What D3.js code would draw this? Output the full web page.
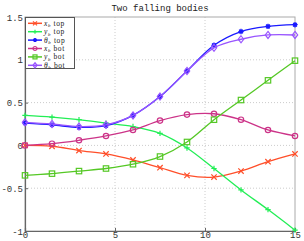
<!DOCTYPE html>
<html>
<head>
<meta charset="utf-8">
<script src="https://cdn.jsdelivr.net/npm/d3@7"></script>
<style>
body { margin: 0; background: #fff; }
text { font-family: "Liberation Mono", "DejaVu Sans Mono", monospace; }
</style>
</head>
<body>
<div id="chart"></div>
<script>
// data
var times = [0, 1.5, 3, 4.5, 6, 7.5, 9, 10.5, 12, 13.5, 15];
var xTop = [0, -0.01, -0.06, -0.10, -0.17, -0.26, -0.35, -0.37, -0.30, -0.19, -0.10];
var yTop = [0.35, 0.33, 0.30, 0.26, 0.22, 0.14, -0.03, -0.27, -0.52, -0.75, -0.99];
var thTop = [0.26, 0.24, 0.21, 0.23, 0.35, 0.57, 0.87, 1.17, 1.33, 1.39, 1.41];
var xBot = [0, 0.02, 0.06, 0.11, 0.18, 0.29, 0.36, 0.37, 0.30, 0.18, 0.11];
var yBot = [-0.35, -0.33, -0.30, -0.27, -0.22, -0.13, 0.04, 0.30, 0.53, 0.76, 0.99];
var thBot = [0.27, 0.25, 0.22, 0.24, 0.35, 0.57, 0.87, 1.14, 1.24, 1.29, 1.29];
var xTicks = [0, 5, 10, 15];
var yTicks = [-1, -0.5, 0, 0.5, 1, 1.5];

var series = [
  {sym: "x", sub: "b", pos: "top", vals: xTop, color: "#ff4f2a", marker: "cross"},
  {sym: "y", sub: "b", pos: "top", vals: yTop, color: "#22ee55", marker: "plus"},
  {sym: "θ", sub: "b", pos: "top", vals: thTop, color: "#1a1aff", marker: "star"},
  {sym: "x", sub: "b", pos: "bot", vals: xBot, color: "#cc3388", marker: "circle"},
  {sym: "y", sub: "b", pos: "bot", vals: yBot, color: "#55c825", marker: "square"},
  {sym: "θ", sub: "b", pos: "bot", vals: thBot, color: "#9955ff", marker: "diamond"}
];

var svgWidth = 304, svgHeight = 241;
var margin = {top: 17, right: 9, bottom: 10, left: 25};
var chartWidth = svgWidth - margin.left - margin.right;
var chartHeight = svgHeight - margin.top - margin.bottom;

var svg = d3.select("#chart").append("svg")
  .attr("width", svgWidth)
  .attr("height", svgHeight);

var g = svg.append("g")
  .attr("transform", `translate(${margin.left}, ${margin.top})`);

var xScale = d3.scaleLinear().domain([0, 15]).range([0, chartWidth]);
var yScale = d3.scaleLinear().domain([-1, 1.5]).range([chartHeight, 0]);

// grid
g.append("g").selectAll("line").data(xTicks.slice(1, -1)).enter().append("line")
  .attr("x1", d => xScale(d)).attr("x2", d => xScale(d))
  .attr("y1", 0).attr("y2", chartHeight)
  .attr("stroke", "#ccc").attr("stroke-dasharray", "1,2");
g.append("g").selectAll("line").data(yTicks.slice(1, -1)).enter().append("line")
  .attr("y1", d => yScale(d)).attr("y2", d => yScale(d))
  .attr("x1", 0).attr("x2", chartWidth)
  .attr("stroke", "#ccc").attr("stroke-dasharray", "1,2");

// box
g.append("rect").attr("width", chartWidth).attr("height", chartHeight)
  .attr("fill", "none").attr("stroke", "#aaa");

// axes
var bottomAxis = d3.axisBottom(xScale).tickValues(xTicks).tickSize(-3).tickPadding(1);
var leftAxis = d3.axisLeft(yScale).tickValues(yTicks).tickSize(-3).tickPadding(2)
  .tickFormat(d => d3.format("")(d).replace("−", "-"));

var bx = g.append("g").attr("transform", `translate(0, ${chartHeight})`).call(bottomAxis);
var ly = g.append("g").call(leftAxis);
[bx, ly].forEach(a => {
  a.select(".domain").attr("stroke", "#666").attr("stroke-width", 1.2);
  a.selectAll(".tick line").attr("stroke", "#666");
  a.selectAll("text").attr("font-size", 9).attr("fill", "#333")
    .style("font-family", "Liberation Mono, monospace");
});
ly.selectAll("text").attr("dy", "0.35em");

// title
svg.append("text").attr("x", 160).attr("y", 11).attr("text-anchor", "middle")
  .attr("font-size", 9).attr("fill", "#222").text("Two falling bodies");

function drawMarker(sel, type, color, r) {
  if (type === "cross") {
    sel.append("path").attr("d", `M${-r},${-r}L${r},${r}M${-r},${r}L${r},${-r}`)
      .attr("stroke", color).attr("stroke-width", 1.2);
  } else if (type === "plus") {
    sel.append("path").attr("d", `M${-r},0L${r},0M0,${-r}L0,${r}`)
      .attr("stroke", color).attr("stroke-width", 1.2);
  } else if (type === "star") {
    sel.append("circle").attr("r", r * 0.75).attr("fill", color);
    sel.append("path").attr("d", `M${-r},0L${r},0M0,${-r}L0,${r}M${-r*0.7},${-r*0.7}L${r*0.7},${r*0.7}M${-r*0.7},${r*0.7}L${r*0.7},${-r*0.7}`)
      .attr("stroke", color).attr("stroke-width", 1.2);
  } else if (type === "circle") {
    sel.append("circle").attr("r", r).attr("fill", "none")
      .attr("stroke", color).attr("stroke-width", 1.2);
  } else if (type === "square") {
    sel.append("rect").attr("x", -r).attr("y", -r).attr("width", 2 * r).attr("height", 2 * r)
      .attr("fill", "none").attr("stroke", color).attr("stroke-width", 1.2);
  } else if (type === "diamond") {
    sel.append("path").attr("d", `M0,${-r*1.3}L${r},0L0,${r*1.3}L${-r},0Z`)
      .attr("fill", "none").attr("stroke", color).attr("stroke-width", 1.2);
  }
}

var line = d3.line()
  .x((d, i) => xScale(times[i]))
  .y(d => yScale(d))
  .curve(d3.curveCatmullRom.alpha(0.5));

var plot = g.append("g");
series.forEach(s => {
  plot.append("path").datum(s.vals)
    .attr("d", line)
    .attr("fill", "none").attr("stroke", s.color).attr("stroke-width", 1.3);
  plot.selectAll(null).data(s.vals).enter().append("g")
    .attr("transform", (d, i) => `translate(${xScale(times[i])}, ${yScale(d)})`)
    .each(function() { drawMarker(d3.select(this), s.marker, s.color, 2.7); });
});

// legend
var legend = g.append("g").attr("transform", "translate(0, 0)");
legend.append("rect").attr("x", 0.5).attr("y", 0.5).attr("width", 49).attr("height", 51)
  .attr("fill", "#fff").attr("stroke", "#555");
series.forEach((s, i) => {
  var yy = 6.3 + i * 8.4;
  legend.append("line").attr("x1", 3).attr("x2", 17).attr("y1", yy).attr("y2", yy)
    .attr("stroke", s.color).attr("stroke-width", 1.5);
  var m = legend.append("g").attr("transform", `translate(10, ${yy})`);
  drawMarker(m, s.marker, s.color, 2);
  var t = legend.append("text").attr("x", 19).attr("y", yy + 2.5)
    .attr("font-size", 7.5).attr("letter-spacing", 0.6).attr("fill", "#222")
    .style("font-family", "Liberation Serif, serif");
  t.append("tspan").attr("font-style", "italic").text(s.sym);
  t.append("tspan").attr("font-size", 5).attr("font-style", "italic").attr("dy", 1.3).text(s.sub);
  t.append("tspan").attr("dy", -1.3).text(" " + s.pos);
});
</script>
</body>
</html>
